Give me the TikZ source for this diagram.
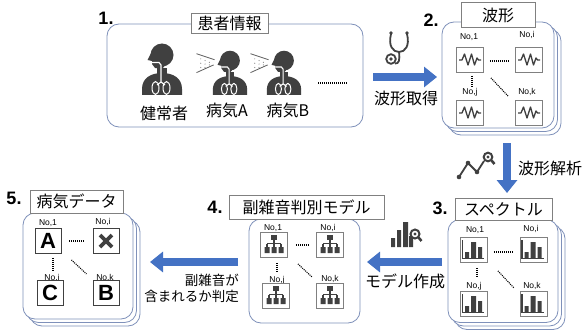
\documentclass[tikz,border=0pt]{standalone}
\usepackage{fontspec}
\setmainfont{Liberation Sans}
\newfontfamily\jp{Noto Sans CJK JP}
\usetikzlibrary{arrows.meta,calc}
\definecolor{boxc}{HTML}{7F91BA}
\definecolor{flow}{HTML}{4472C4}
\definecolor{ink}{HTML}{404040}
\definecolor{frm}{HTML}{808080}

\tikzset{
  % person with lungs
  patient/.pic={
    \fill[ink] (-20,0) -- (-20,-6) .. controls (-20,-17) and (-11,-22) .. (0,-22)
      .. controls (11,-22) and (20,-17) .. (20,-6) -- (20,0) -- cycle;
    \fill[ink] (-5,-27) rectangle (5,-20);
    \fill[ink] (0,-40) circle (11.5);
    \fill[ink] (-9,-46) -- (-14.5,-35) -- (-10,-34) -- (-10,-31) -- (-7,-27) -- (0,-26) -- (5,-32) -- cycle;
    \draw[white, line width=1.1pt] (-10,-32.5) -- (-3,-32.5) -- (-1,-30) -- (-1,-13)
      (-1,-13) -- (-5,-10) (-1,-13) -- (3,-10);
    \draw[white, line width=1pt] (-6.5,-7) ellipse (3.5 and 6.5) (4.5,-7) ellipse (3.5 and 6.5);
  },
  % exhaled spray in front of the mouth
  spray/.pic={
    \draw[ink!85, line width=0.8pt] (-39,-48) -- (-18,-41) (-39,-26) -- (-19,-35);
    \foreach \px/\py in {-34/-42,-34/-37,-34/-32,-29/-40,-29/-36,-29/-32,-24/-38,-24/-35}
      \fill[ink!60] (\px,\py) circle (0.7);
  },
  wave/.pic={
    \draw[ink, line width=1.3pt, line join=round] (-11,0) -- (-8,0) -- (-5.5,-6) -- (-2,5)
      -- (1.5,-6) -- (4.5,5) -- (7,-2) -- (8.5,0) -- (11,0);
  },
  bars/.pic={
    \draw[ink, line width=1.1pt] (-11.5,-10) -- (-11.5,8.5) -- (10,8.5);
    \fill[ink] (-9,2) rectangle (-5,8) (-3,-8) rectangle (2,8) (4,-3) rectangle (8,8);
  },
  tree/.pic={
    \fill[ink] (-3,-10) rectangle (3,-5);
    \draw[ink, line width=1.1pt] (0,-5) -- (0,-1.5) (-7,-1.5) -- (7,-1.5)
      (-7,-1.5) -- (-7,2) (0,-1.5) -- (0,2) (7,-1.5) -- (7,2);
    \fill[ink] (-9.5,2) rectangle (-4.5,8) (-2.5,2) rectangle (2.5,8) (4.5,2) rectangle (9.5,8);
  },
}

\begin{document}
\begin{tikzpicture}[x=1pt,y=-1pt,
  rbox/.style={draw=boxc, line width=0.8pt, rounded corners=12pt, fill=white, inner sep=0pt},
  title/.style={draw=frm, line width=0.7pt, fill=white, inner sep=0pt, font=\jp\fontsize{16}{16}\selectfont},
  num/.style={font=\bfseries\fontsize{18}{18}\selectfont, inner sep=0pt},
  lab/.style={font=\jp\fontsize{16}{16}\selectfont, inner sep=0pt},
  small/.style={font=\jp\fontsize{13.5}{16}\selectfont, inner sep=0pt, align=right},
  no/.style={font=\fontsize{8.5}{9}\selectfont, inner sep=0pt},
  cell/.style={draw=frm, line width=0.8pt, fill=white, minimum width=27pt, minimum height=25pt, inner sep=0pt},
  lcell/.style={draw=ink, line width=0.8pt, fill=white, minimum width=26pt, minimum height=25pt, inner sep=0pt,
    font=\bfseries\fontsize{22}{22}\selectfont},
  flowarrow/.style={draw=flow, line width=8.5pt, -{Triangle[length=13pt,width=20pt]}},
  dots/.style={dash pattern=on 1pt off 1pt, line width=1.1pt},
]
\useasboundingbox (0,0) rectangle (585,334);
\fill[white] (0,0) rectangle (585,334);

% ---------- 1. patient information ----------
\node[rbox, minimum width=256pt, minimum height=103pt] (b1) at (235,75.5) {};
\node[title, minimum width=77pt, minimum height=20pt] (t1) at (229.5,23) {患者情報};
\node[num] (n1) at (106,18) {1.};
\pic at (162,95) {patient};
\pic[scale=0.86] at (230,95) {patient};
\pic[scale=0.86] at (230,95) {spray};
\pic[scale=0.86] at (284,95) {patient};
\pic[scale=0.86] at (284,95) {spray};
\node[lab] (p1) at (164,113) {健常者};
\node[lab] (p2) at (227,110) {病気A};
\node[lab] (p3) at (288,110) {病気B};
\coordinate (e1) at (318,83);
\coordinate (e2) at (347,83);
\draw[dots] (e1) -- (e2);

% ---------- 2. waveforms ----------
\node[rbox, minimum width=112pt, minimum height=106pt] (b2c) at (505,82) {};
\node[rbox, minimum width=112pt, minimum height=106pt] (b2b) at (501.5,78.5) {};
\node[rbox, minimum width=112pt, minimum height=106pt] (b2) at (498,75) {};
\node[title, minimum width=74pt, minimum height=25pt] (t2) at (498,15) {波形};
\node[num] (n2) at (431,20) {2.};
\node[no] (l21) at (469,37) {No,1};
\node[no] (l2i) at (527,35) {No,i};
\node[no] (l2j) at (470,92) {No,j};
\node[no] (l2k) at (527,92) {No,k};
\node[cell] (c21) at (470,60) {};
\node[cell] (c2i) at (529,60) {};
\node[cell] (c2j) at (470,113) {};
\node[cell] (c2k) at (529,113) {};
\foreach \c in {c21,c2i,c2j,c2k} \pic at (\c) {wave};
\draw[dots] ($(c21.east)+(6,1)$) -- ($(c2i.west)+(-6,1)$);
\draw[dots] ($(c21.south)+(2,3)$) -- ++(0,11);
\draw[dots] ($(c21.south east)+(7,5)$) -- ++(17,18);

% ---------- 3. spectra ----------
\node[rbox, minimum width=110pt, minimum height=103pt] (b3c) at (510,278) {};
\node[rbox, minimum width=110pt, minimum height=103pt] (b3b) at (506.5,274.5) {};
\node[rbox, minimum width=110pt, minimum height=103pt] (b3) at (503,271) {};
\node[title, minimum width=97pt, minimum height=22pt] (t3) at (503.5,209) {スペクトル};
\node[num] (n3) at (440,208) {3.};
\node[no] (l31) at (475,230) {No,1};
\node[no] (l3i) at (531,229) {No,i};
\node[no] (l3j) at (474,286) {No,j};
\node[no] (l3k) at (532,286) {No,k};
\node[cell] (c31) at (474,250) {};
\node[cell] (c3i) at (533.5,250) {};
\node[cell] (c3j) at (474,304) {};
\node[cell] (c3k) at (533.5,304) {};
\foreach \c in {c31,c3i,c3j,c3k} \pic at (\c) {bars};
\draw[dots] ($(c31.east)+(6,2)$) -- ($(c3i.west)+(-7,2)$);
\draw[dots] ($(c31.south)+(3,5)$) -- ++(0,10);
\draw[dots] ($(c31.south east)+(10,8)$) -- ++(16,17);

% ---------- 4. adventitious sound classifier ----------
\node[rbox, minimum width=111pt, minimum height=104pt] (b4) at (304.5,271) {};
\node[title, minimum width=155pt, minimum height=24pt] (t4) at (306.5,207) {副雑音判別モデル};
\node[num] (n4) at (215,207) {4.};
\node[no] (l41) at (273,228) {No,1};
\node[no] (l4i) at (328,228) {No,i};
\node[no] (l4j) at (277,280) {No,j};
\node[no] (l4k) at (330,279) {No,k};
\node[cell] (c41) at (274,245) {};
\node[cell] (c4i) at (330,245) {};
\node[cell] (c4j) at (276,296) {};
\node[cell] (c4k) at (330,296) {};
\foreach \c in {c41,c4i,c4j,c4k} \pic at (\c) {tree};
\draw[dots] ($(c41.east)+(8,0)$) -- ($(c4i.west)+(-8,0)$);
\draw[dots] ($(c41.south)+(3,5)$) -- ++(0,10);
\draw[dots] ($(c41.south east)+(10,6)$) -- ++(14,13);

% ---------- 5. disease data ----------
\node[rbox, minimum width=110pt, minimum height=106pt] (b5c) at (85,273) {};
\node[rbox, minimum width=110pt, minimum height=106pt] (b5b) at (81.5,269.5) {};
\node[rbox, minimum width=110pt, minimum height=106pt] (b5) at (78,266) {};
\node[title, minimum width=93pt, minimum height=23pt] (t5) at (76.5,201.5) {病気データ};
\node[num] (n5) at (14,198) {5.};
\node[no] (l51) at (48,223) {No,1};
\node[no] (l5i) at (103,222) {No,i};
\node[no] (l5j) at (52,278) {No,j};
\node[no] (l5k) at (105,278) {No,k};
\node[lcell] (c51) at (48,241) {A};
\node[lcell] (c5i) at (106,241) {};
\node[lcell] (c5j) at (50,293) {C};
\node[lcell] (c5k) at (106,293) {B};
\draw[ink, line width=3.8pt] ($(c5i)+(-6,-6)$) -- ($(c5i)+(6,6)$) ($(c5i)+(-6,6)$) -- ($(c5i)+(6,-6)$);
\draw[dots] ($(c51.east)+(8,0)$) -- ($(c5i.west)+(-8,0)$);
\draw[dots] ($(c51.south)+(5,4)$) -- ++(0,13);
\draw[dots] ($(c51.south east)+(10,6)$) -- ++(15,14);

% ---------- flow arrows ----------
\coordinate (a1s) at (373,77);
\coordinate (a1e) at (437,77);
\draw[flowarrow] (a1s) -- (a1e);
\node[lab] (a1l) at (406,98) {波形取得};

\coordinate (a2s) at (507,143);
\coordinate (a2e) at (507,193);
\draw[flowarrow] (a2s) -- (a2e);
\node[lab] (a2l) at (550,168) {波形解析};

\coordinate (a3s) at (442,262);
\coordinate (a3e) at (367,262);
\draw[flowarrow] (a3s) -- (a3e);
\node[lab] (a3l) at (405,281) {モデル作成};

\coordinate (a4s) at (238,262);
\coordinate (a4e) at (150,262);
\draw[flowarrow] (a4s) -- (a4e);
\node[small, anchor=east] (a4l) at (239,288) {副雑音が\\含まれるか判定};

% ---------- small icons above the arrows ----------
% stethoscope
\fill[ink] (391,33) circle (1.8) (407,33) circle (1.8);
\draw[ink, line width=1.8pt] (391,34) .. controls (388,46) and (393,52) .. (399,52)
  .. controls (405,52) and (410,46) .. (407,34);
\draw[ink, line width=1.8pt] (399,52) .. controls (400,60) and (399,64) .. (395,63.5);
\draw[ink, line width=1.8pt, fill=white] (391,59) circle (4.8);
\fill[ink] (391,59) circle (1.8);

% trend line with magnifier
\draw[ink, line width=1.8pt, line join=round] (459,177) -- (468,163) -- (477,172) -- (484,161);
\fill[ink] (459,177) circle (2.3) (468,163) circle (2.3) (477,172) circle (2.3);
\draw[ink, line width=2pt] (488,157) circle (4.3);
\fill[ink] (488,157) circle (1.7);
\draw[ink, line width=2.6pt] (491.5,160.5) -- (494.5,164);

% bar chart with magnifier
\fill[ink] (391,238) rectangle (395,247) (397,230) rectangle (401,247) (403,222) rectangle (408,247)
  (409,236) rectangle (413,247);
\draw[ink, line width=2pt, fill=white] (415,234) circle (4.5);
\fill[ink] (415,234) circle (1.7);
\draw[ink, line width=2.6pt] (418.5,237.5) -- (421.5,241);
\end{tikzpicture}
\end{document}
